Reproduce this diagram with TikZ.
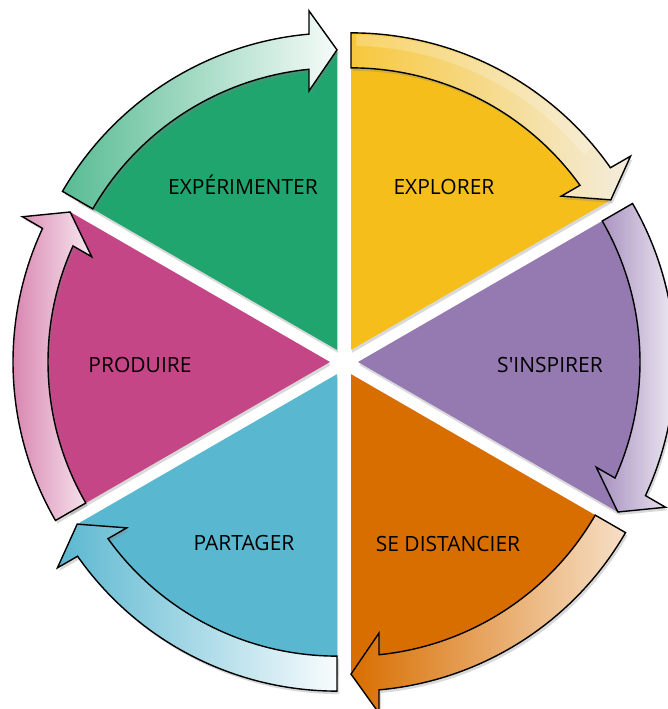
\documentclass[tikz,border=0pt]{standalone}
\usepackage{fontspec}
\setmainfont{Open Sans}[Ligatures=TeXOff]
\usetikzlibrary{shadows}
\definecolor{cGreen}{RGB}{32,165,111}
\definecolor{cYellow}{RGB}{246,190,26}
\definecolor{cPurple}{RGB}{149,121,177}
\definecolor{cPink}{RGB}{196,70,135}
\definecolor{cBlue}{RGB}{90,183,208}
\definecolor{cOrange}{RGB}{216,110,0}
\definecolor{cCream}{RGB}{244,237,222}
\tikzset{
  sectorstyle/.style={draw=none, drop shadow={shadow xshift=1pt, shadow yshift=-3pt, opacity=0.3}},
  bandstyle/.style={draw=black, line width=1.4pt, line join=miter, drop shadow={shadow xshift=2pt, shadow yshift=-3pt, opacity=0.3}},
  lbl/.style={font=\fontsize{21}{22}\selectfont, anchor=base, text=black, inner sep=0pt}
}
\newcommand\petalsector[2]{%
  \begin{scope}[shift={(344,347)}, shift={(#1+30:14)}]
    \fill[#2, sectorstyle] (0,0) -- (#1:300) arc[start angle=#1, end angle=#1+60, radius=300] -- cycle;
  \end{scope}}
\newcommand\petalband[3]{%
  \begin{scope}[shift={(344,347)}, shift={(#1+30:14)}]
    \shade[bandstyle, left color=#2, right color=#3]
      (#1+60:317) arc[start angle=#1+60, end angle=#1+5.07, radius=317]
      -- (#1+4.72:340.15) -- (#1:300) -- (#1+6.17:260.5)
      -- (#1+5.70:282) arc[start angle=#1+5.70, end angle=#1+60, radius=282] -- cycle;
  \end{scope}}
\begin{document}
\begin{tikzpicture}[x=1pt,y=1pt]
\useasboundingbox (0,0) rectangle (667,709);
\petalsector{30}{cYellow}
\petalsector{90}{cGreen}
\petalsector{150}{cPink}
\petalsector{210}{cBlue}
\petalsector{270}{cOrange}
\petalsector{330}{cPurple}
\petalband{30}{cYellow!85!white}{cCream}
\petalband{90}{cGreen!75!white}{cGreen!4!white}
\petalband{150}{cPink!75!white}{cPink!12!white}
\petalband{210}{cBlue}{cBlue!4!white}
\petalband{270}{cOrange}{cOrange!22!white}
\petalband{330}{cPurple!85!white}{cPurple!4!white}
\begin{scope}[shift={(344,347)}, shift={(60:14)}]
  \fill[white, opacity=0.22] (89:315) arc[start angle=89, end angle=40, radius=315]
    -- (40:304) arc[start angle=40, end angle=89, radius=304] -- cycle;
\end{scope}
\node[lbl] (experimenter) at (243,514) {EXPÉRIMENTER};
\node[lbl] (explorer) at (444,514) {EXPLORER};
\node[lbl] (sinspirer) at (550,336) {S'INSPIRER};
\node[lbl] (sedistancier) at (448,157) {SE DISTANCIER};
\node[lbl] (partager) at (244,158) {PARTAGER};
\node[lbl] (produire) at (140,336) {PRODUIRE};
\end{tikzpicture}
\end{document}
